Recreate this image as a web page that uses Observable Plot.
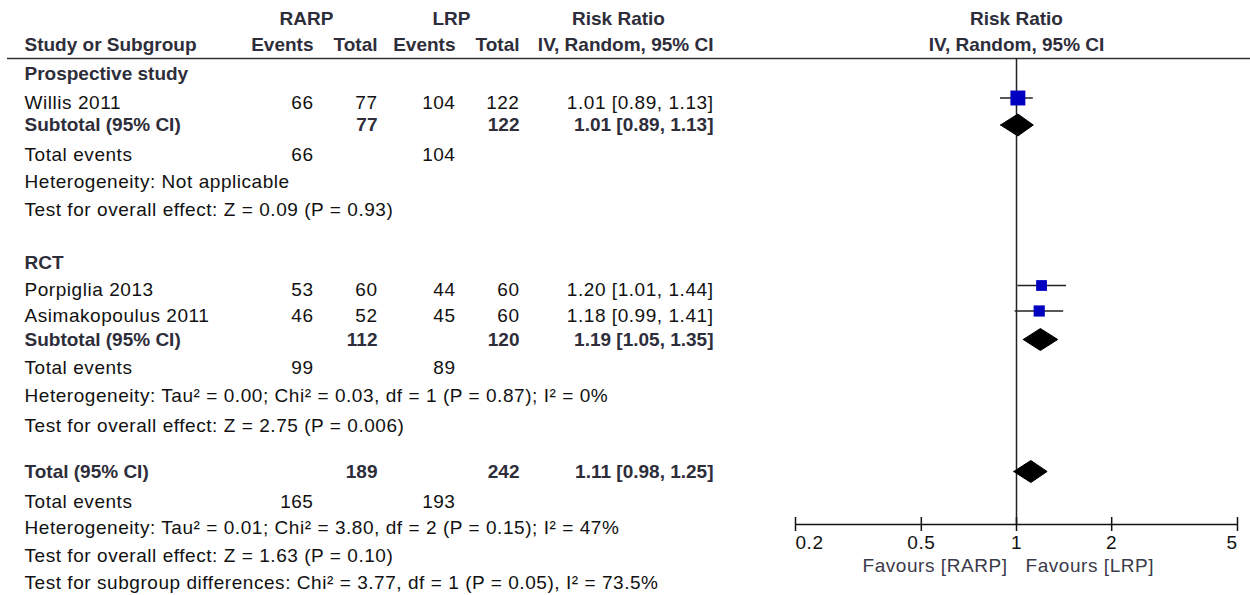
<!DOCTYPE html>
<html><head><meta charset="utf-8">
<script src="https://cdn.jsdelivr.net/npm/d3@7"></script>
<script src="https://cdn.jsdelivr.net/npm/@observablehq/plot@0.6"></script>
<style>
body{margin:0;background:#fff;}
#wrap{display:flex;width:1250px;height:595px;overflow:hidden;}
#wrap svg{display:block;}
#wrap g[font-weight="normal"] text{letter-spacing:0.55px;}
</style></head><body><div id="wrap"></div>
<script>
// ---------------- DATA ----------------
const groupHeaders = ["RARP", "LRP", "Risk Ratio"];
const columnHeaders = ["Study or Subgroup", "Events", "Total", "Events", "Total", "IV, Random, 95% CI"];
const forestHeaders = ["Risk Ratio", "IV, Random, 95% CI"];
const subgroupNames = ["Prospective study", "RCT"];
const studyNames = ["Willis 2011", "Porpiglia 2013", "Asimakopoulus 2011"];
const studyGroup = [0, 1, 1];
const rarpEvents = [66, 53, 46];
const rarpTotal = [77, 60, 52];
const lrpEvents = [104, 44, 45];
const lrpTotal = [122, 60, 60];
const studyRR = [1.01, 1.20, 1.18];
const studyLo = [0.89, 1.01, 0.99];
const studyHi = [1.13, 1.44, 1.41];
const studyWeight = [48, 25, 27]; // estimated from the square sizes
const subRarpEvents = [66, 99];
const subLrpEvents = [104, 89];
const subRarpTotal = [77, 112];
const subLrpTotal = [122, 120];
const subRR = [1.01, 1.19];
const subLo = [0.89, 1.05];
const subHi = [1.13, 1.35];
const subHet = ["Heterogeneity: Not applicable",
  "Heterogeneity: Tau² = 0.00; Chi² = 0.03, df = 1 (P = 0.87); I² = 0%"];
const subTest = ["Test for overall effect: Z = 0.09 (P = 0.93)",
  "Test for overall effect: Z = 2.75 (P = 0.006)"];
const totalLabel = ["Total (95% CI)"];
const totalRarpEvents = [165];
const totalLrpEvents = [193];
const totalRarp = [189];
const totalLrp = [242];
const totalRR = [1.11];
const totalLo = [0.98];
const totalHi = [1.25];
const totalNotes = [
  "Heterogeneity: Tau² = 0.01; Chi² = 3.80, df = 2 (P = 0.15); I² = 47%",
  "Test for overall effect: Z = 1.63 (P = 0.10)",
  "Test for subgroup differences: Chi² = 3.77, df = 1 (P = 0.05), I² = 73.5%"];
const subtotalLabel = "Subtotal (95% CI)";
const eventsLabel = "Total events";
const xTicks = [0.2, 0.5, 1, 2, 5];
const favours = ["Favours [RARP]", "Favours [LRP]"];

// ---------------- LAYOUT ----------------
const H = 595, TABLE_W = 780, FOREST_W = 470;
const FONT = "'Liberation Sans', Arial, sans-serif";
const FS = 19;
const ruleTop = 58, axisY = 524;
const colX = {study: 24, rarpEv: 313, rarpTot: 377, lrpEv: 455, lrpTot: 519, ci: 713,
              rarpHdr: 306, lrpHdr: 451, rrHdr: 618};
const rowY = {
  hdr1: 18.5, hdr2: 44,
  g0: 73.5, s0: 102, sub0: 124.5, ev0: 154.5, het0: 181.5, test0: 209,
  g1: 262.5, s1: 289.5, s2: 315, sub1: 339, ev1: 367, het1: 395, test1: 425,
  tot: 471, evT: 501, hetT: 527.5, testT: 555.5, diffT: 582.5
};
const studyRow = ["s0", "s1", "s2"];
const groupRows = [
  {g: "g0", sub: "sub0", ev: "ev0", het: "het0", test: "test0"},
  {g: "g1", sub: "sub1", ev: "ev1", het: "het1", test: "test1"}];
const squareDy = -4.5, diamondHalf = 11;
const fmt = v => v.toFixed(2);
const ci = (e, l, h) => `${fmt(e)} [${fmt(l)}, ${fmt(h)}]`;

// ---------------- TABLE CELLS ----------------
const cells = [];
const add = (row, col, text, bold = false, anchor = "end") =>
  cells.push({x: colX[col], y: rowY[row], text: String(text), bold, anchor});

["rarpHdr", "lrpHdr", "rrHdr"].forEach((c, i) => add("hdr1", c, groupHeaders[i], true, "middle"));
["study", "rarpEv", "rarpTot", "lrpEv", "lrpTot", "ci"].forEach((c, i) =>
  add("hdr2", c, columnHeaders[i], true, i === 0 ? "start" : "end"));

subgroupNames.forEach((name, g) => {
  const r = groupRows[g];
  add(r.g, "study", name, true, "start");
  studyNames.forEach((s, i) => {
    if (studyGroup[i] !== g) return;
    const row = studyRow[i];
    add(row, "study", s, false, "start");
    add(row, "rarpEv", rarpEvents[i]);
    add(row, "rarpTot", rarpTotal[i]);
    add(row, "lrpEv", lrpEvents[i]);
    add(row, "lrpTot", lrpTotal[i]);
    add(row, "ci", ci(studyRR[i], studyLo[i], studyHi[i]));
  });
  add(r.sub, "study", subtotalLabel, true, "start");
  add(r.sub, "rarpTot", subRarpTotal[g], true);
  add(r.sub, "lrpTot", subLrpTotal[g], true);
  add(r.sub, "ci", ci(subRR[g], subLo[g], subHi[g]), true);
  add(r.ev, "study", eventsLabel, false, "start");
  add(r.ev, "rarpEv", subRarpEvents[g]);
  add(r.ev, "lrpEv", subLrpEvents[g]);
  add(r.het, "study", subHet[g], false, "start");
  add(r.test, "study", subTest[g], false, "start");
});
add("tot", "study", totalLabel[0], true, "start");
add("tot", "rarpTot", totalRarp[0], true);
add("tot", "lrpTot", totalLrp[0], true);
add("tot", "ci", ci(totalRR[0], totalLo[0], totalHi[0]), true);
add("evT", "study", eventsLabel, false, "start");
add("evT", "rarpEv", totalRarpEvents[0]);
add("evT", "lrpEv", totalLrpEvents[0]);
["hetT", "testT", "diffT"].forEach((row, i) => add(row, "study", totalNotes[i], false, "start"));

const textMarks = [];
for (const anchor of ["start", "middle", "end"]) for (const bold of [false, true]) {
  const d = cells.filter(c => c.anchor === anchor && c.bold === bold);
  if (!d.length) continue;
  textMarks.push(Plot.text(d, {x: "x", y: "y", text: "text", textAnchor: anchor,
    fontFamily: FONT, fontSize: FS, fontWeight: bold ? "bold" : "normal",
    fill: bold ? "#2e2e3a" : "#111"}));
}

const table = Plot.plot({
  width: TABLE_W, height: H, margin: 0,
  x: {domain: [0, TABLE_W], range: [0, TABLE_W], axis: null},
  y: {domain: [0, H], range: [0, H], axis: null},
  style: {background: "white", overflow: "visible"},
  marks: [
    Plot.ruleY([ruleTop], {x1: 7, x2: TABLE_W, stroke: "#333", strokeWidth: 1.5}),
    ...textMarks
  ]
});

// ---------------- FOREST ----------------
const studies = studyNames.map((s, i) => ({name: s, y: rowY[studyRow[i]] + squareDy,
  rr: studyRR[i], lo: studyLo[i], hi: studyHi[i], w: studyWeight[i]}));
const pooled = [
  ...subgroupNames.map((g, i) => ({id: g, y: rowY[groupRows[i].sub], rr: subRR[i], lo: subLo[i], hi: subHi[i]})),
  {id: "total", y: rowY.tot, rr: totalRR[0], lo: totalLo[0], hi: totalHi[0]}];
const diamondPts = pooled.flatMap(d => [
  {id: d.id, x: d.lo, y: d.y}, {id: d.id, x: d.rr, y: d.y - diamondHalf},
  {id: d.id, x: d.hi, y: d.y}, {id: d.id, x: d.rr, y: d.y + diamondHalf}, {id: d.id, x: d.lo, y: d.y}]);

const tickFont = {fontFamily: FONT, fontSize: FS, fontWeight: "normal", fill: "#111"};
const favFont = {fontFamily: FONT, fontSize: FS, fontWeight: "normal", fill: "#3a3a4a"};
const forest = Plot.plot({
  width: FOREST_W, height: H, margin: 0,
  x: {type: "log", domain: [0.2, 5], range: [15, 457], axis: null},
  y: {domain: [0, H], range: [0, H], axis: null},
  r: {type: "sqrt", domain: [0, 50], range: [0, 8.6]},
  style: {background: "white", overflow: "visible"},
  marks: [
    Plot.ruleY([ruleTop], {stroke: "#333", strokeWidth: 1.5}),
    Plot.text([forestHeaders[0]], {x: 1, y: rowY.hdr1, text: d => d, fontFamily: FONT, fontSize: FS, fontWeight: "bold", fill: "#2e2e3a"}),
    Plot.text([forestHeaders[1]], {x: 1, y: rowY.hdr2, text: d => d, fontFamily: FONT, fontSize: FS, fontWeight: "bold", fill: "#2e2e3a"}),
    Plot.ruleX([1], {y1: ruleTop, y2: axisY, stroke: "#222", strokeWidth: 1.5}),
    Plot.ruleY(studies, {y: "y", x1: "lo", x2: "hi", stroke: "#222", strokeWidth: 1.5}),
    Plot.dot(studies, {x: "rr", y: "y", r: "w", symbol: "square", fill: "#0000c0", stroke: "none"}),
    Plot.line(diamondPts, {x: "x", y: "y", z: "id", fill: "black", stroke: "black", strokeWidth: 1, curve: "linear"}),
    Plot.ruleY([axisY], {x1: xTicks[0], x2: xTicks[xTicks.length - 1], stroke: "#111", strokeWidth: 1.5}),
    Plot.ruleX(xTicks, {x: d => d, y1: axisY - 7, y2: axisY + 7, stroke: "#111", strokeWidth: 1.5}),
    Plot.text(xTicks.slice(0, 1), {x: d => d, y: 542, text: d => String(d), textAnchor: "start", ...tickFont}),
    Plot.text(xTicks.slice(1, -1), {x: d => d, y: 542, text: d => String(d), textAnchor: "middle", ...tickFont}),
    Plot.text(xTicks.slice(-1), {x: d => d, y: 542, text: d => String(d), textAnchor: "end", ...tickFont}),
    Plot.text([favours[0]], {x: 1, y: 565, dx: -9, text: d => d, textAnchor: "end", ...favFont}),
    Plot.text([favours[1]], {x: 1, y: 565, dx: 9, text: d => d, textAnchor: "start", ...favFont})
  ]
});

const wrap = document.getElementById("wrap");
wrap.appendChild(table);
wrap.appendChild(forest);
</script></body></html>
